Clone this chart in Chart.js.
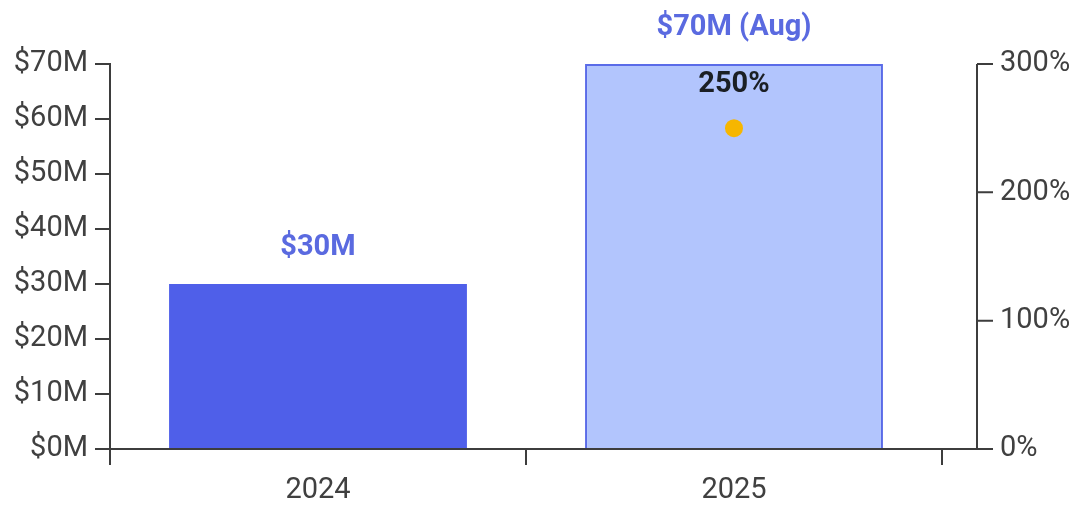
<!DOCTYPE html>
<html>
<head>
<meta charset="utf-8">
<script src="https://cdn.jsdelivr.net/npm/chart.js@4"></script>
<style>
  html, body { margin: 0; padding: 0; background: #fff; }
  #wrap { width: 1072px; height: 505px; }
</style>
</head>
<body>
<div id="wrap"><canvas id="revenueChart"></canvas></div>
<script>
const years = ["2024", "2025"];
const revenue = [30, 70];
const revenueLabels = ["$30M", "$70M (Aug)"];
const growth = [null, 250];
const growthLabels = [null, "250%"];

const axisColor = "#3d3d3d";
const textColor = "#404040";
const barBlue = "#4f5fe9";
const barLight = "#b2c5fd";
const barEdge = "#5a6be8";
const labelBlue = "#5a6ae0";
const dotColor = "#f6b600";
const fontFamily = "Roboto, 'Noto Sans', sans-serif";

// right axis sits off the end of the x axis, so draw its line/ticks by hand
const axisExtras = {
  id: "axisExtras",
  afterDraw(chart) {
    const ctx = chart.ctx;
    const y1 = chart.scales.y1;
    const area = chart.chartArea;
    const axisX = 977;
    ctx.save();
    ctx.strokeStyle = axisColor;
    ctx.lineWidth = 2;
    ctx.beginPath();
    ctx.moveTo(area.right, area.bottom);
    ctx.lineTo(axisX, area.bottom);
    ctx.moveTo(axisX, y1.getPixelForValue(y1.max));
    ctx.lineTo(axisX, y1.getPixelForValue(y1.min));
    y1.ticks.forEach(t => {
      const py = y1.getPixelForValue(t.value);
      ctx.moveTo(axisX, py);
      ctx.lineTo(axisX + 16, py);
    });
    ctx.stroke();
    ctx.restore();
  },
  afterDatasetsDraw(chart) {
    const ctx = chart.ctx;
    ctx.save();
    ctx.textAlign = "center";
    ctx.textBaseline = "middle";

    const barMeta = chart.getDatasetMeta(1);
    ctx.font = "bold 29px " + fontFamily;
    ctx.fillStyle = labelBlue;
    barMeta.data.forEach((bar, i) => {
      ctx.fillText(revenueLabels[i], bar.x, bar.y - 36);
    });

    const pointMeta = chart.getDatasetMeta(0);
    ctx.fillStyle = "#1b1f24";
    pointMeta.data.forEach((pt, i) => {
      if (growthLabels[i] == null) return;
      ctx.fillText(growthLabels[i], pt.x, pt.y - 43);
    });
    ctx.restore();
  }
};

new Chart(document.getElementById("revenueChart").getContext("2d"), {
  type: "bar",
  data: {
    labels: years,
    datasets: [{
      type: "line",
      data: growth,
      yAxisID: "y1",
      showLine: false,
      pointRadius: 9,
      pointHoverRadius: 9,
      pointBackgroundColor: dotColor,
      pointBorderWidth: 0,
      order: 0,
    }, {
      type: "bar",
      data: revenue,
      yAxisID: "y",
      backgroundColor: [barBlue, barLight],
      borderColor: [barBlue, barEdge],
      borderWidth: [0, 2],
      borderSkipped: "bottom",
      barPercentage: 0.716,
      categoryPercentage: 1,
      order: 1,
    }],
  },
  options: {
    animation: false,
    responsive: true,
    maintainAspectRatio: false,
    events: [],
    layout: {
      padding: { top: 64, right: 0, bottom: 0, left: 0 },
    },
    plugins: {
      legend: { display: false },
      tooltip: { enabled: false },
    },
    scales: {
      x: {
        offset: true,
        grid: {
          offset: true,
          drawOnChartArea: false,
          color: axisColor,
          lineWidth: 2,
          tickLength: 16,
        },
        border: { display: true, color: axisColor, width: 2 },
        ticks: {
          color: textColor,
          padding: 8,
          font: { family: fontFamily, size: 29 },
        },
        afterFit(scale) { scale.height = 56; },
      },
      y: {
        position: "left",
        min: 0,
        max: 70,
        grid: {
          drawOnChartArea: false,
          color: axisColor,
          lineWidth: 2,
          tickLength: 15,
        },
        border: { display: true, color: axisColor, width: 2 },
        ticks: {
          stepSize: 10,
          color: textColor,
          padding: 7,
          font: { family: fontFamily, size: 29 },
          callback: v => "$" + v + "M",
        },
        afterFit(scale) { scale.width = 110; },
      },
      y1: {
        position: "right",
        min: 0,
        max: 300,
        grid: {
          drawOnChartArea: false,
          color: "rgba(0,0,0,0)",
          tickLength: 53,
        },
        border: { display: false },
        ticks: {
          stepSize: 100,
          color: textColor,
          padding: 5,
          font: { family: fontFamily, size: 29 },
          callback: v => v + "%",
        },
        afterFit(scale) { scale.width = 130; },
      },
    },
  },
  plugins: [axisExtras],
});
</script>
</body>
</html>
